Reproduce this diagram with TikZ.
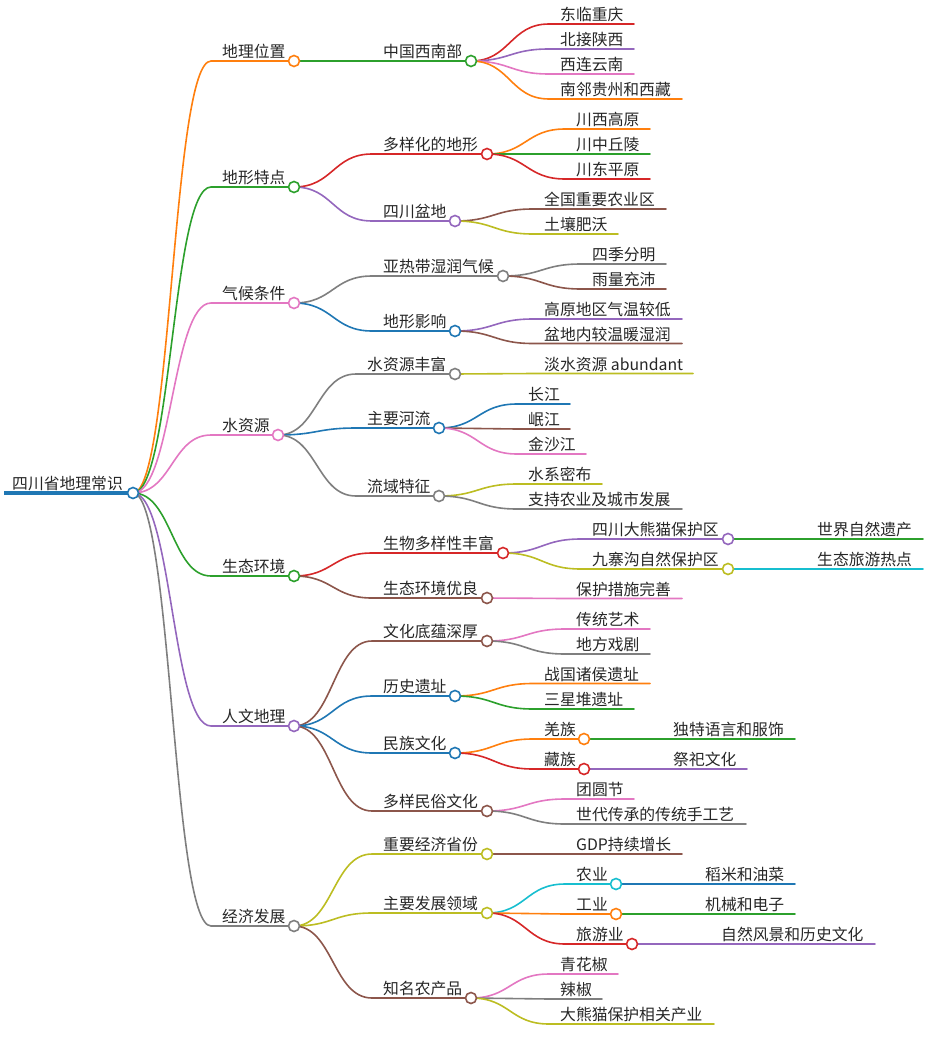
\documentclass[tikz,border=0pt]{standalone}
\usepackage{fontspec}
\setmainfont{Noto Sans CJK SC}
\definecolor{cblue}{HTML}{1F77B4}
\definecolor{corange}{HTML}{FF7F0E}
\definecolor{cgreen}{HTML}{2CA02C}
\definecolor{cred}{HTML}{D62728}
\definecolor{cpurple}{HTML}{9467BD}
\definecolor{cbrown}{HTML}{8C564B}
\definecolor{cpink}{HTML}{E377C2}
\definecolor{cgray}{HTML}{7F7F7F}
\definecolor{colive}{HTML}{BCBD22}
\definecolor{ccyan}{HTML}{17BECF}
\tikzset{
  edge/.style={line width=1.6pt, line cap=round},
  dot/.style={circle, draw, fill=white, line width=1.6pt, minimum size=11pt, inner sep=0pt},
  lbl/.style={anchor=base west, inner sep=0pt, font=\fontsize{15.8}{16}\selectfont, text=black!85},
}
% name, line start x, y, end x (circle or line end), text
\newcommand\mmN[5]{%
  \coordinate (#1s) at (#2,#3);
  \coordinate (#1) at (#4,#3);
  \node[lbl] (#1-txt) at (#2+11,#3-3.5) {#5};}
\newcommand\mmE[3]{\draw[edge,#3] (#1) .. controls +(39,0) and +(-39,0) .. (#2s) -- (#2);}
\newcommand\mmC[2]{\node[dot,draw=#2] (#1-dot) at (#1) {};}
\begin{document}
\begin{tikzpicture}[x=1pt,y=-1pt]
\useasboundingbox (0,0) rectangle (929,1055);
% root
\coordinate (Rs) at (4,493);
\coordinate (R) at (133,493);
\node[lbl] (R-txt) at (12,489.5) {四川省地理常识};
% level 1
\mmN{A}{211}{61}{294}{地理位置}
\mmN{B}{211}{187}{294}{地形特点}
\mmN{C}{211}{303}{294}{气候条件}
\mmN{D}{211}{435}{278}{水资源}
\mmN{E}{211}{576}{294}{生态环境}
\mmN{F}{211}{726}{294}{人文地理}
\mmN{G}{211}{926}{294}{经济发展}
% level 2
\mmN{A1}{372}{61}{471}{中国西南部}
\mmN{B1}{372}{154}{487}{多样化的地形}
\mmN{B2}{372}{221}{455}{四川盆地}
\mmN{C1}{372}{276}{503}{亚热带湿润气候}
\mmN{C2}{372}{331}{455}{地形影响}
\mmN{D1}{356}{374}{455}{水资源丰富}
\mmN{D2}{356}{428}{439}{主要河流}
\mmN{D3}{356}{496}{439}{流域特征}
\mmN{E1}{372}{553}{503}{生物多样性丰富}
\mmN{E2}{372}{598}{487}{生态环境优良}
\mmN{F1}{372}{641}{487}{文化底蕴深厚}
\mmN{F2}{372}{696}{455}{历史遗址}
\mmN{F3}{372}{753}{455}{民族文化}
\mmN{F4}{372}{811}{487}{多样民俗文化}
\mmN{G1}{372}{854}{487}{重要经济省份}
\mmN{G2}{372}{913}{487}{主要发展领域}
\mmN{G3}{372}{998}{471}{知名农产品}
% level 3
\mmN{A1a}{549}{24}{634}{东临重庆}
\mmN{A1b}{549}{49}{634}{北接陕西}
\mmN{A1c}{549}{74}{634}{西连云南}
\mmN{A1d}{549}{99}{682}{南邻贵州和西藏}
\mmN{B1a}{565}{129}{650}{川西高原}
\mmN{B1b}{565}{154}{650}{川中丘陵}
\mmN{B1c}{565}{179}{650}{川东平原}
\mmN{B2a}{533}{209}{666}{全国重要农业区}
\mmN{B2b}{533}{234}{618}{土壤肥沃}
\mmN{C1a}{581}{264}{666}{四季分明}
\mmN{C1b}{581}{289}{666}{雨量充沛}
\mmN{C2a}{533}{319}{682}{高原地区气温较低}
\mmN{C2b}{533}{343.5}{682}{盆地内较温暖湿润}
\mmN{D1a}{533}{373.5}{693}{淡水资源 abundant}
\mmN{D2a}{517}{404}{570}{长江}
\mmN{D2b}{517}{429}{570}{岷江}
\mmN{D2c}{517}{454}{586}{金沙江}
\mmN{D3a}{517}{484}{602}{水系密布}
\mmN{D3b}{517}{509}{682}{支持农业及城市发展}
\mmN{E1a}{581}{539}{728}{四川大熊猫保护区}
\mmN{E1b}{581}{569}{728}{九寨沟自然保护区}
\mmN{E2a}{565}{598.5}{682}{保护措施完善}
\mmN{F1a}{565}{629}{650}{传统艺术}
\mmN{F1b}{565}{654}{650}{地方戏剧}
\mmN{F2a}{533}{683.5}{650}{战国诸侯遗址}
\mmN{F2b}{533}{709}{634}{三星堆遗址}
\mmN{F3a}{533}{739}{584}{羌族}
\mmN{F3b}{533}{769}{584}{藏族}
\mmN{F4a}{565}{799}{634}{团圆节}
\mmN{F4b}{565}{824}{746}{世代传承的传统手工艺}
\mmN{G1a}{565}{854}{682}{GDP持续增长}
\mmN{G2a}{565}{884}{616}{农业}
\mmN{G2b}{565}{914}{616}{工业}
\mmN{G2c}{565}{944}{632}{旅游业}
\mmN{G3a}{549}{974}{618}{青花椒}
\mmN{G3b}{549}{999}{602}{辣椒}
\mmN{G3c}{549}{1024}{714}{大熊猫保护相关产业}
% level 4
\mmN{E1a1}{806}{539}{923}{世界自然遗产}
\mmN{E1b1}{806}{569}{923}{生态旅游热点}
\mmN{F3a1}{662}{739}{795}{独特语言和服饰}
\mmN{F3b1}{662}{769}{747}{祭祀文化}
\mmN{G2a1}{694}{884}{795}{稻米和油菜}
\mmN{G2b1}{694}{914}{795}{机械和电子}
\mmN{G2c1}{710}{944}{875}{自然风景和历史文化}
% edges
\draw[cblue, line width=4pt] (Rs) -- (R);
\mmE{R}{A}{corange}
\mmE{R}{B}{cgreen}
\mmE{R}{C}{cpink}
\mmE{R}{D}{cpink}
\mmE{R}{E}{cgreen}
\mmE{R}{F}{cpurple}
\mmE{R}{G}{cgray}
\mmE{A}{A1}{cgreen}
\mmE{B}{B1}{cred}
\mmE{B}{B2}{cpurple}
\mmE{C}{C1}{cgray}
\mmE{C}{C2}{cblue}
\mmE{D}{D1}{cgray}
\mmE{D}{D2}{cblue}
\mmE{D}{D3}{cgray}
\mmE{E}{E1}{cred}
\mmE{E}{E2}{cbrown}
\mmE{F}{F1}{cbrown}
\mmE{F}{F2}{cblue}
\mmE{F}{F3}{cblue}
\mmE{F}{F4}{cbrown}
\mmE{G}{G1}{colive}
\mmE{G}{G2}{colive}
\mmE{G}{G3}{cbrown}
\mmE{A1}{A1a}{cred}
\mmE{A1}{A1b}{cpurple}
\mmE{A1}{A1c}{cpink}
\mmE{A1}{A1d}{corange}
\mmE{B1}{B1a}{corange}
\mmE{B1}{B1b}{cgreen}
\mmE{B1}{B1c}{cred}
\mmE{B2}{B2a}{cbrown}
\mmE{B2}{B2b}{colive}
\mmE{C1}{C1a}{cgray}
\mmE{C1}{C1b}{cbrown}
\mmE{C2}{C2a}{cpurple}
\mmE{C2}{C2b}{cbrown}
\mmE{D1}{D1a}{colive}
\mmE{D2}{D2a}{cblue}
\mmE{D2}{D2b}{cbrown}
\mmE{D2}{D2c}{cpink}
\mmE{D3}{D3a}{colive}
\mmE{D3}{D3b}{cgray}
\mmE{E1}{E1a}{cpurple}
\mmE{E1}{E1b}{colive}
\mmE{E2}{E2a}{cpink}
\mmE{F1}{F1a}{cpink}
\mmE{F1}{F1b}{cgray}
\mmE{F2}{F2a}{corange}
\mmE{F2}{F2b}{cgreen}
\mmE{F3}{F3a}{corange}
\mmE{F3}{F3b}{cred}
\mmE{F4}{F4a}{cpink}
\mmE{F4}{F4b}{cgray}
\mmE{G1}{G1a}{cbrown}
\mmE{G2}{G2a}{ccyan}
\mmE{G2}{G2b}{corange}
\mmE{G2}{G2c}{cred}
\mmE{G3}{G3a}{cpink}
\mmE{G3}{G3b}{cgray}
\mmE{G3}{G3c}{colive}
\mmE{E1a}{E1a1}{cgreen}
\mmE{E1b}{E1b1}{ccyan}
\mmE{F3a}{F3a1}{cgreen}
\mmE{F3b}{F3b1}{cpurple}
\mmE{G2a}{G2a1}{cblue}
\mmE{G2b}{G2b1}{cgreen}
\mmE{G2c}{G2c1}{cpurple}
% circles
\mmC{R}{cblue}
\mmC{A}{corange}
\mmC{B}{cgreen}
\mmC{C}{cpink}
\mmC{D}{cpink}
\mmC{E}{cgreen}
\mmC{F}{cpurple}
\mmC{G}{cgray}
\mmC{A1}{cgreen}
\mmC{B1}{cred}
\mmC{B2}{cpurple}
\mmC{C1}{cgray}
\mmC{C2}{cblue}
\mmC{D1}{cgray}
\mmC{D2}{cblue}
\mmC{D3}{cgray}
\mmC{E1}{cred}
\mmC{E2}{cbrown}
\mmC{F1}{cbrown}
\mmC{F2}{cblue}
\mmC{F3}{cblue}
\mmC{F4}{cbrown}
\mmC{G1}{colive}
\mmC{G2}{colive}
\mmC{G3}{cbrown}
\mmC{E1a}{cpurple}
\mmC{E1b}{colive}
\mmC{F3a}{corange}
\mmC{F3b}{cred}
\mmC{G2a}{ccyan}
\mmC{G2b}{corange}
\mmC{G2c}{cred}
\end{tikzpicture}
\end{document}
